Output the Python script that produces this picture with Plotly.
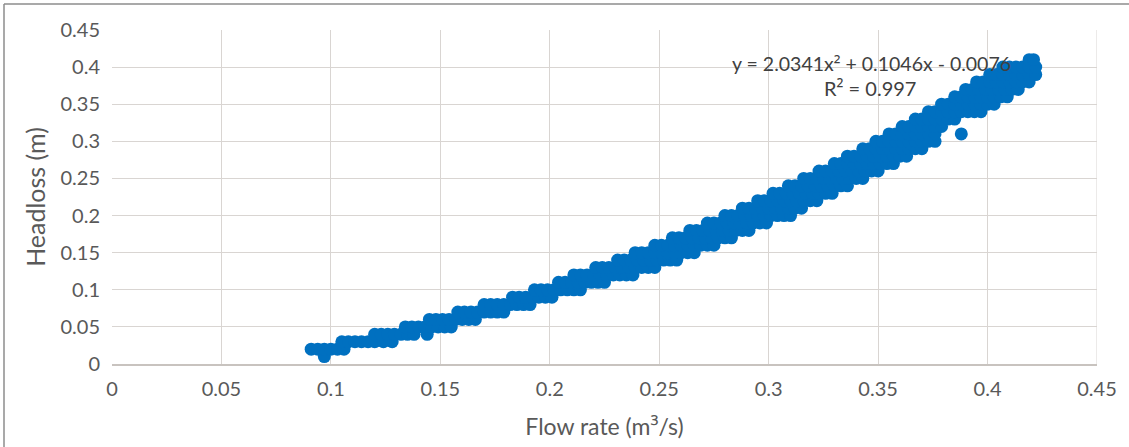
import plotly.graph_objects as go

# Headloss levels (m) and the flow rates (m3/s) measured at each level
h001 = [0.097]
h002 = [0.091, 0.094, 0.097, 0.100, 0.103, 0.106]
h003 = [0.105, 0.108, 0.111, 0.114, 0.117, 0.120, 0.124, 0.128]
h004 = [0.120, 0.123, 0.126, 0.129, 0.132, 0.135, 0.138, 0.144]
h005 = [0.134, 0.137, 0.140, 0.143, 0.146, 0.149, 0.152, 0.155]
h006 = [0.145, 0.148, 0.151, 0.154, 0.157, 0.160, 0.163, 0.166]
h007 = [0.158, 0.161, 0.164, 0.167, 0.170, 0.173, 0.176, 0.179]
h008 = [0.170, 0.173, 0.176, 0.179, 0.182, 0.185, 0.188, 0.191]
h009 = [0.183, 0.186, 0.189, 0.192, 0.195, 0.198, 0.201]
h010 = [0.193, 0.196, 0.199, 0.202, 0.205, 0.208, 0.211, 0.214]
h011 = [0.204, 0.207, 0.210, 0.213, 0.216, 0.219, 0.222, 0.225]
h012 = [0.211, 0.214, 0.217, 0.220, 0.223, 0.226, 0.229, 0.232, 0.235, 0.238]
h013 = [0.221, 0.224, 0.227, 0.230, 0.233, 0.236, 0.239, 0.242, 0.245, 0.248]
h014 = [0.231, 0.234, 0.237, 0.240, 0.243, 0.246, 0.249, 0.252, 0.255, 0.258]
h015 = [0.239, 0.242, 0.245, 0.248, 0.251, 0.254, 0.257, 0.260, 0.263, 0.266]
h016 = [0.248, 0.251, 0.254, 0.257, 0.260, 0.263, 0.266, 0.269, 0.272, 0.275]
h017 = [0.256, 0.259, 0.262, 0.265, 0.268, 0.271, 0.274, 0.277, 0.280, 0.283]
h018 = [0.264, 0.267, 0.270, 0.273, 0.276, 0.279, 0.282, 0.285, 0.288, 0.291]
h019 = [0.272, 0.275, 0.278, 0.281, 0.284, 0.287, 0.290, 0.293, 0.296, 0.299]
h020 = [0.280, 0.283, 0.286, 0.289, 0.292, 0.295, 0.298, 0.301, 0.304, 0.307, 0.310]
h021 = [0.288, 0.291, 0.294, 0.297, 0.300, 0.303, 0.306, 0.309, 0.312, 0.315]
h022 = [0.295, 0.298, 0.301, 0.304, 0.307, 0.310, 0.313, 0.316, 0.319, 0.322]
h023 = [0.302, 0.305, 0.308, 0.311, 0.314, 0.317, 0.320, 0.323, 0.326, 0.329]
h024 = [0.309, 0.312, 0.315, 0.318, 0.321, 0.324, 0.327, 0.330, 0.333, 0.336]
h025 = [0.316, 0.319, 0.322, 0.325, 0.328, 0.331, 0.334, 0.337, 0.340, 0.343]
h026 = [0.323, 0.326, 0.329, 0.332, 0.335, 0.338, 0.341, 0.344, 0.347, 0.350]
h027 = [0.330, 0.333, 0.336, 0.339, 0.342, 0.345, 0.348, 0.351, 0.354, 0.357]
h028 = [0.336, 0.339, 0.342, 0.345, 0.348, 0.351, 0.354, 0.357, 0.360, 0.363]
h029 = [0.343, 0.346, 0.349, 0.352, 0.355, 0.358, 0.361, 0.364, 0.367, 0.370]
h030 = [0.349, 0.352, 0.355, 0.358, 0.361, 0.364, 0.367, 0.370, 0.373, 0.376]
h031 = [0.355, 0.358, 0.361, 0.364, 0.367, 0.370, 0.373, 0.376, 0.388]
h032 = [0.361, 0.364, 0.367, 0.370, 0.373, 0.376, 0.379]
h033 = [0.367, 0.370, 0.373, 0.376, 0.379, 0.382, 0.385]
h034 = [0.373, 0.376, 0.379, 0.382, 0.385, 0.388, 0.391, 0.394, 0.397]
h035 = [0.379, 0.382, 0.385, 0.388, 0.391, 0.394, 0.397, 0.400, 0.403]
h036 = [0.385, 0.388, 0.391, 0.394, 0.397, 0.400, 0.403, 0.406, 0.409]
h037 = [0.390, 0.393, 0.396, 0.399, 0.402, 0.405, 0.408, 0.411, 0.414]
h038 = [0.395, 0.398, 0.401, 0.404, 0.407, 0.410, 0.413, 0.416, 0.419]
h039 = [0.401, 0.404, 0.407, 0.410, 0.413, 0.416, 0.419, 0.422]
h040 = [0.407, 0.410, 0.413, 0.416, 0.419, 0.422]
h041 = [0.419, 0.421]

headloss_levels = [0.01, 0.02, 0.03, 0.04, 0.05, 0.06, 0.07, 0.08, 0.09, 0.10,
                   0.11, 0.12, 0.13, 0.14, 0.15, 0.16, 0.17, 0.18, 0.19, 0.20,
                   0.21, 0.22, 0.23, 0.24, 0.25, 0.26, 0.27, 0.28, 0.29, 0.30,
                   0.31, 0.32, 0.33, 0.34, 0.35, 0.36, 0.37, 0.38, 0.39, 0.40, 0.41]
flow_groups = [h001, h002, h003, h004, h005, h006, h007, h008, h009, h010,
               h011, h012, h013, h014, h015, h016, h017, h018, h019, h020,
               h021, h022, h023, h024, h025, h026, h027, h028, h029, h030,
               h031, h032, h033, h034, h035, h036, h037, h038, h039, h040, h041]

x_ticks = [0, 0.05, 0.1, 0.15, 0.2, 0.25, 0.3, 0.35, 0.4, 0.45]
x_tick_labels = ["0", "0.05", "0.1", "0.15", "0.2", "0.25", "0.3", "0.35", "0.4", "0.45"]
y_ticks = [0, 0.05, 0.1, 0.15, 0.2, 0.25, 0.3, 0.35, 0.4, 0.45]
y_tick_labels = ["0", "0.05", "0.1", "0.15", "0.2", "0.25", "0.3", "0.35", "0.4", "0.45"]

SUP = "<span style='font-family:Open Sans'>{}</span>"
equation_text = "y = 2.0341x" + SUP.format("²") + " + 0.1046x - 0.0076"
r2_text = "R" + SUP.format("²") + " = 0.997"
x_title = "Flow rate (m" + SUP.format("³") + "/s)"

flow = []
head = []
for lvl, grp in zip(headloss_levels, flow_groups):
    for q in grp:
        flow.append(q)
        head.append(lvl)

FONT = "Lato, 'Open Sans', sans-serif"
GRID = "#d9d5d2"
TXT = "#595959"

# plot area in pixels: left 112, right 1097, top 30, bottom 364
PL, PR, PT, PB = 112, 1097, 30, 364
PW, PH = PR - PL, PB - PT

fig = go.Figure()
fig.add_trace(go.Scatter(
    x=flow, y=head, mode="markers",
    marker=dict(size=13, color="#0070c0", line=dict(width=0)),
    showlegend=False, hoverinfo="x+y",
))

fig.update_layout(
    width=1129, height=447,
    margin=dict(l=PL, r=1129 - PR, t=PT, b=447 - PB, autoexpand=False),
    paper_bgcolor="white", plot_bgcolor="white",
    font=dict(family=FONT, size=20, color=TXT),
    xaxis=dict(
        range=[0, 0.45], tickvals=x_ticks, ticktext=x_tick_labels,
        showgrid=True, gridcolor=GRID, gridwidth=1,
        zeroline=False, showline=True, linecolor="#c8c3bf", linewidth=1.5,
        ticks="", ticklabelstandoff=6, automargin=False,
        tickfont=dict(family=FONT, size=20, color=TXT),
        title=dict(text=x_title, standoff=20,
                   font=dict(family=FONT, size=23, color=TXT)),
        fixedrange=True,
    ),
    yaxis=dict(
        range=[0, 0.45], tickvals=y_ticks, ticktext=y_tick_labels,
        showgrid=True, gridcolor=GRID, gridwidth=1,
        zeroline=False, showline=False,
        ticks="", ticklabelstandoff=11, automargin=False,
        tickfont=dict(family=FONT, size=20, color=TXT),
        title=dict(text="Headloss (m)", standoff=7,
                   font=dict(family=FONT, size=25, color=TXT)),
        fixedrange=True,
    ),
    shapes=[
        dict(type="line", xref="x", yref="y", x0=0.45, x1=0.45, y0=0, y1=0.45,
             line=dict(color=GRID, width=1)),
        dict(type="line", xref="paper", yref="paper",
             x0=(4 - PL) / PW, x1=(4 - PL) / PW,
             y0=(PB - 450) / PH, y1=(PB - 4) / PH,
             line=dict(color="#8c8c8c", width=1.5)),
        dict(type="line", xref="paper", yref="paper",
             x0=(4 - PL) / PW, x1=(1135 - PL) / PW,
             y0=(PB - 4) / PH, y1=(PB - 4) / PH,
             line=dict(color="#8c8c8c", width=1.5)),
    ],
    annotations=[
        dict(x=0.3469, y=0.405, xref="x", yref="y", text=equation_text, showarrow=False,
             font=dict(family=FONT, size=19.5, color="#404040"), xanchor="center", yanchor="middle"),
        dict(x=0.3464, y=0.3715, xref="x", yref="y", text=r2_text, showarrow=False,
             font=dict(family=FONT, size=20, color="#404040"), xanchor="center", yanchor="middle"),
    ],
)

fig.write_html("out.html", config={"displayModeBar": False},
               post_script="document.body.style.margin='0px';")
